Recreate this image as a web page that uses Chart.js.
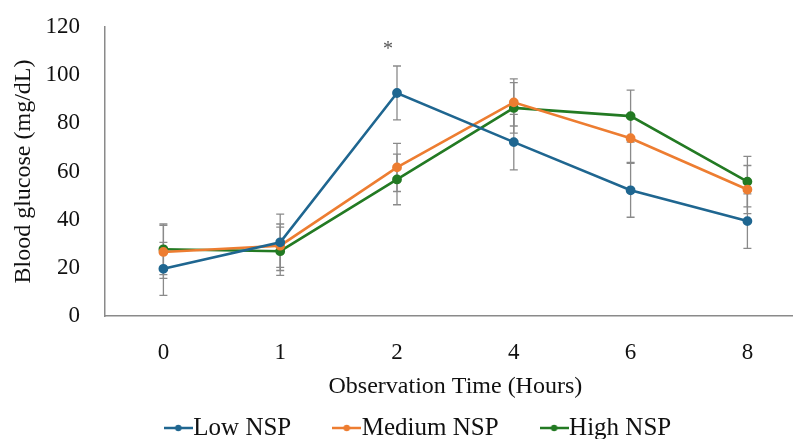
<!DOCTYPE html>
<html>
<head>
<meta charset="utf-8">
<script src="https://cdn.jsdelivr.net/npm/chart.js@4"></script>
<style>
  html, body { margin: 0; padding: 0; background: #fff; overflow: hidden; }
  #wrap { width: 812px; height: 439px; }
</style>
</head>
<body>
<div id="wrap"><canvas id="myChart" width="812" height="439"></canvas></div>
<script>
const hours = ['0', '1', '2', '4', '6', '8'];
const lowNSP = [19.6, 30.6, 92.6, 72.2, 52.2, 39.4];
const mediumNSP = [26.6, 29.2, 61.7, 88.7, 73.8, 52.5];
const highNSP = [27.7, 26.9, 56.7, 86.4, 83.0, 55.8];
const lowErr = [11, 11.7, 11.2, 11.5, 11.2, 11.3];
const mediumErr = [11, 9, 10, 9.8, 10, 10];
const highErr = [10.5, 10, 10.5, 10.5, 10.8, 10.5];
const seriesNames = ['Low NSP', 'Medium NSP', 'High NSP'];
const seriesColors = ['#1f6690', '#ed7d31', '#237a23'];

const fontFam = '"Liberation Serif", "DejaVu Serif", serif';

// little line+dot marker like the excel legend
function legendMarker(color) {
  const c = document.createElement('canvas');
  c.width = 29; c.height = 10;
  const g = c.getContext('2d');
  g.strokeStyle = color; g.lineWidth = 2.5;
  g.beginPath(); g.moveTo(0, 5); g.lineTo(29, 5); g.stroke();
  g.fillStyle = color;
  g.beginPath(); g.arc(14.5, 5, 3.2, 0, Math.PI * 2); g.fill();
  return c;
}

const errorBars = {
  id: 'errorBars',
  afterLayout(chart) {
    // nudge legend row to the right a bit
    chart.legend.left += 20.5;
    chart.legend.right += 20.5;
  },
  beforeDatasetsDraw(chart) {
    const errs = [lowErr, mediumErr, highErr];
    const ctx = chart.ctx;
    const y = chart.scales.y;
    ctx.save();
    ctx.strokeStyle = '#8a8a8a';
    ctx.lineWidth = 1.3;
    chart.data.datasets.forEach((ds, i) => {
      const meta = chart.getDatasetMeta(i);
      meta.data.forEach((pt, j) => {
        const v = ds.data[j];
        const top = y.getPixelForValue(v + errs[i][j]);
        const bot = y.getPixelForValue(v - errs[i][j]);
        ctx.beginPath();
        ctx.moveTo(pt.x, top); ctx.lineTo(pt.x, bot);
        ctx.moveTo(pt.x - 4, top); ctx.lineTo(pt.x + 4, top);
        ctx.moveTo(pt.x - 4, bot); ctx.lineTo(pt.x + 4, bot);
        ctx.stroke();
      });
    });
    ctx.restore();
  },
  afterDatasetsDraw(chart) {
    // significance star over the 2 h point
    const pt = chart.getDatasetMeta(0).data[2];
    const ctx = chart.ctx;
    ctx.save();
    ctx.fillStyle = '#555';
    ctx.font = '20px ' + fontFam;
    ctx.textAlign = 'center';
    ctx.textBaseline = 'middle';
    ctx.fillText('*', pt.x - 9, chart.scales.y.getPixelForValue(112) + 3);
    ctx.restore();
  }
};

const options = {
  type: 'line',
  data: {
    labels: hours,
    datasets: [lowNSP, mediumNSP, highNSP].map((d, i) => ({
      label: seriesNames[i],
      data: d,
      borderColor: seriesColors[i],
      backgroundColor: seriesColors[i],
      borderWidth: 2.6,
      pointRadius: 3.6,
      pointHoverRadius: 3.6,
      tension: 0
    }))
  },
  options: {
    responsive: false,
    animation: false,
    layout: { padding: { top: 27, right: 6, left: 0, bottom: 0 } },
    plugins: {
      tooltip: { enabled: false },
      legend: {
        position: 'bottom',
        maxHeight: 26.5,
        labels: {
          usePointStyle: true,
          pointStyleWidth: 5,
          color: '#111',
          padding: 3,
          boxHeight: 10,
          font: { family: fontFam, size: 25 },
          generateLabels: (chart) => chart.data.datasets.map((ds, i) => ({
            text: ds.label + (i < 2 ? '        ' : ''),
            pointStyle: legendMarker(seriesColors[i]),
            fillStyle: seriesColors[i],
            strokeStyle: seriesColors[i],
            lineWidth: 0,
            datasetIndex: i,
            fontColor: '#111'
          }))
        }
      }
    },
    scales: {
      y: {
        min: 0,
        max: 120,
        afterFit: (s) => { s.width = 105; },
        ticks: { stepSize: 20, padding: 25, color: '#111', font: { family: fontFam, size: 23, lineHeight: 0.1 } },
        grid: { display: false, drawTicks: false },
        border: { color: '#8a8a8a', width: 1.5 },
        title: { display: true, text: 'Blood glucose (mg/dL)', color: '#111', padding: { top: 9.5, bottom: 0 },
                 font: { family: fontFam, size: 24 } }
      },
      x: {
        offset: true,
        afterFit: (s) => { s.height = 96.5; },
        ticks: { padding: 23, color: '#111', font: { family: fontFam, size: 23 } },
        grid: { display: false, drawTicks: false, offset: true },
        border: { color: '#8a8a8a', width: 1.5 },
        title: { display: true, text: 'Observation Time (Hours)', color: '#111', padding: { top: 4, bottom: 11.5 },
                 font: { family: fontFam, size: 24 } }
      }
    }
  },
  plugins: [errorBars]
};

const ctx = document.getElementById('myChart').getContext('2d');
new Chart(ctx, options);
</script>
</body>
</html>
